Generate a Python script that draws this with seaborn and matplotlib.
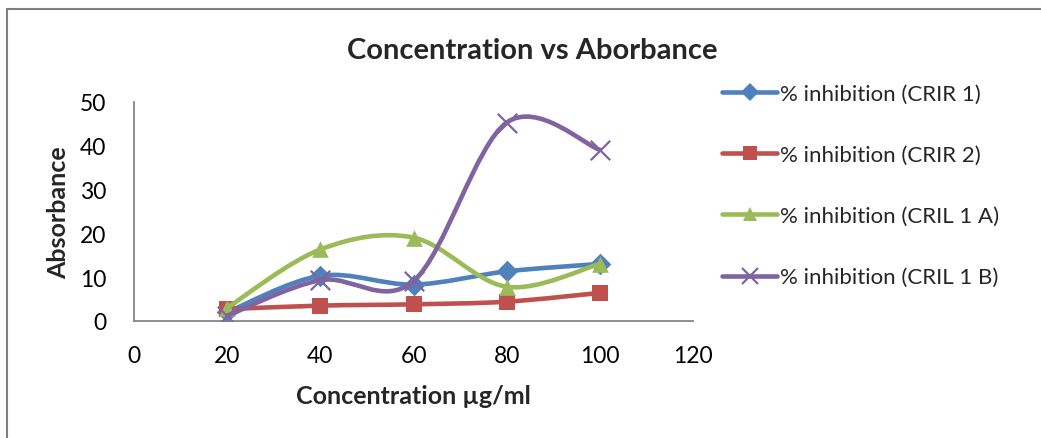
import numpy as np
import pandas as pd
import matplotlib
matplotlib.use("Agg")
import matplotlib.pyplot as plt
import seaborn as sns
from matplotlib.path import Path
from matplotlib.patches import PathPatch, Rectangle
from matplotlib.lines import Line2D

# ===== Data =====
concentration = [20, 40, 60, 80, 100]
crir_1 = [2.0, 10.3, 8.3, 11.3, 13.0]
crir_2 = [2.7, 3.5, 3.8, 4.4, 6.4]
cril_1a = [3.0, 16.3, 19.0, 7.8, 13.0]
cril_1b = [1.2, 9.3, 9.1, 45.2, 39.0]
series_names = ["% inhibition (CRIR 1)", "% inhibition (CRIR 2)",
                "% inhibition (CRIL 1 A)", "% inhibition (CRIL 1 B)"]

colors = ["#4F81BD", "#C0504D", "#9BBB59", "#8064A2"]
markers = ["D", "s", "^", "x"]
msizes = [11, 12, 12, 14]

df = pd.DataFrame({"conc": concentration * 4,
                   "value": crir_1 + crir_2 + cril_1a + cril_1b,
                   "series": np.repeat(series_names, len(concentration))})


def smooth_path(x, y):
    # Excel-style smoothed line: cubic Bezier through the points
    pts = np.column_stack([x, y]).astype(float)
    verts = [pts[0]]
    codes = [Path.MOVETO]
    n = len(pts)
    for i in range(n - 1):
        p0 = pts[i - 1] if i > 0 else pts[i]
        p1 = pts[i]
        p2 = pts[i + 1]
        p3 = pts[i + 2] if i + 2 < n else pts[i + 1]
        c1 = p1 + (p2 - p0) / 6.0
        c2 = p2 - (p3 - p1) / 6.0
        verts += [c1, c2, p2]
        codes += [Path.CURVE4] * 3
    return Path(verts, codes)


sns.set_style("white")
plt.rcParams["font.family"] = ["Lato", "DejaVu Sans"]

fig = plt.figure(figsize=(10.41, 4.39), dpi=100)
ax = fig.add_axes([134 / 1041, 117 / 439, 559 / 1041, 219.5 / 439])

for i, name in enumerate(series_names):
    sub = df[df["series"] == name]
    patch = PathPatch(smooth_path(sub["conc"], sub["value"]), facecolor="none",
                      edgecolor=colors[i], lw=3.3, capstyle="round",
                      joinstyle="round", zorder=2 + i * 2)
    ax.add_patch(patch)
    kw = dict(linewidths=1.6) if markers[i] == "x" else dict(linewidth=0)
    sns.scatterplot(data=sub, x="conc", y="value", marker=markers[i],
                    color=colors[i], s=msizes[i] ** 2, ax=ax, zorder=3 + i * 2,
                    legend=False, **kw)

ax.set_xlim(0, 120)
ax.set_ylim(0, 50)
ax.set_xticks(range(0, 121, 20))
ax.set_yticks(range(0, 51, 10))
ax.tick_params(axis="both", length=0, labelsize=16.5, colors="black")
ax.tick_params(axis="x", pad=17)
ax.tick_params(axis="y", pad=20)
for side in ["top", "right"]:
    ax.spines[side].set_visible(False)
for side in ["left", "bottom"]:
    ax.spines[side].set_color("#868686")
    ax.spines[side].set_linewidth(1.3)
ax.set_xlabel("Concentration µg/ml", fontsize=18, fontweight="bold", labelpad=13)
ax.set_ylabel("Absorbance", fontsize=18, fontweight="bold", labelpad=7)
ax.set_facecolor("none")

fig.text(532 / 1041, 1 - 51 / 439, "Concentration vs Aborbance", ha="center",
         va="center", fontsize=21, fontweight="bold")

handles = [Line2D([], [], color=colors[i], lw=3.3, marker=markers[i],
                  markersize=msizes[i] * 0.8, markeredgewidth=1.6 if markers[i] == "x" else 0,
                  solid_capstyle="round")
           for i in range(4)]
fig.legend(handles, series_names, loc="upper left",
           bbox_to_anchor=(722 / 1041, 1 - 85 / 439), frameon=False,
           fontsize=16, handlelength=2.48, handletextpad=0.15,
           labelspacing=1.85, borderpad=0, borderaxespad=0, numpoints=1)

# outer chart border (cropped by the image edges)
fig.patches.append(Rectangle((7 / 1041, -0.1), 1.2, 1.1 - 10 / 439,
                             transform=fig.transFigure, fill=False,
                             edgecolor="#7F7F7F", lw=1.5))

fig.savefig("out.png", dpi=100)
